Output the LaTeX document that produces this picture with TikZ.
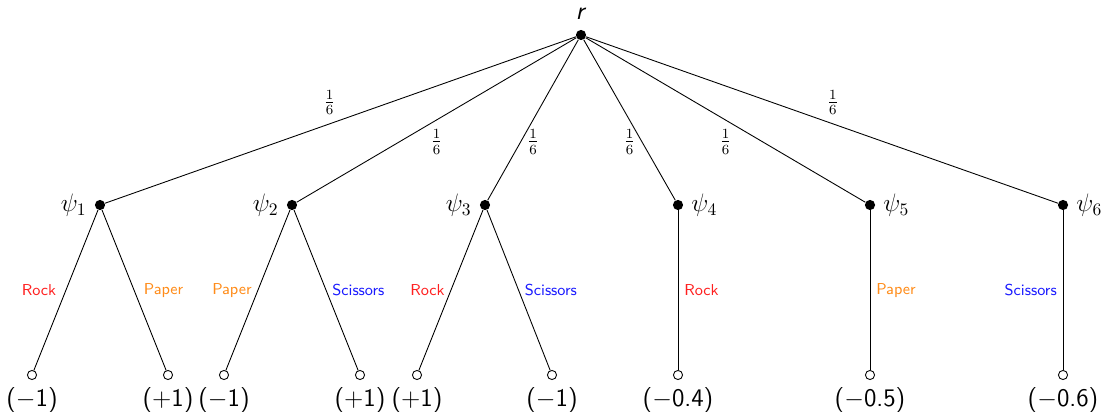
\documentclass[tikz,border=0pt]{standalone}
\usepackage{xcolor}
\usepackage{amsmath}
\usepackage{tikz}
\usetikzlibrary{positioning}
\definecolor{rockred}{HTML}{FF2020}
\definecolor{paperorange}{HTML}{FF8C1A}
\definecolor{scissorsblue}{HTML}{1A1AFF}

\begin{document}
\begin{tikzpicture}[
  x=0.02cm, y=-0.02cm, font=\sffamily,
  choice/.style={circle, fill=black, inner sep=0pt, minimum size=5.8pt},
  leaf/.style={circle, draw, fill=white, inner sep=0pt, minimum size=5.2pt, line width=0.5pt},
  br/.style={line width=0.5pt},
  prob/.style={font=\large},
  rock/.style={font=\small\sffamily, text=rockred},
  paper/.style={font=\small\sffamily, text=paperorange},
  scissors/.style={font=\small\sffamily, text=scissorsblue},
  pay/.style={label={[font=\Large\sffamily, label distance=1pt]below:#1}},
  lname/.style={label={[font=\Large, label distance=1pt]left:#1}},
  rname/.style={label={[font=\Large, label distance=1pt]right:#1}}
]
  \useasboundingbox (0,0) rectangle (1109,412);

  % root and the six worlds
  \node[choice, label={[font=\Large\sffamily, label distance=2pt]above:\textit{r}}] (r) at (581,35) {};
  \node[choice, lname=$\psi_1$] (psi1) at (100,205) {};
  \node[choice, lname=$\psi_2$] (psi2) at (292,205) {};
  \node[choice, lname=$\psi_3$] (psi3) at (485,205) {};
  \node[choice, rname=$\psi_4$] (psi4) at (678,205) {};
  \node[choice, rname=$\psi_5$] (psi5) at (870,205) {};
  \node[choice, rname=$\psi_6$] (psi6) at (1063,205) {};

  % outcomes
  \node[leaf, pay={($-$1)}] (o11) at (32,375) {};
  \node[leaf, pay={(+1)}] (o12) at (168,375) {};
  \node[leaf, pay={($-$1)}] (o21) at (224,375) {};
  \node[leaf, pay={(+1)}] (o22) at (360,375) {};
  \node[leaf, pay={(+1)}] (o31) at (417,375) {};
  \node[leaf, pay={($-$1)}] (o32) at (552,375) {};
  \node[leaf, pay={($-$0.4)}] (o4) at (678,375) {};
  \node[leaf, pay={($-$0.5)}] (o5) at (870,375) {};
  \node[leaf, pay={($-$0.6)}] (o6) at (1063,375) {};

  \draw[br] (r) -- node[prob, above left=-1pt] {$\frac16$} (psi1);
  \draw[br] (r) -- node[prob, below=2pt] {$\frac16$} (psi2);
  \draw[br] (r) -- node[prob, below=2pt] {$\frac16$} (psi3);
  \draw[br] (r) -- node[prob, below=2pt] {$\frac16$} (psi4);
  \draw[br] (r) -- node[prob, below=2pt] {$\frac16$} (psi5);
  \draw[br] (r) -- node[prob, above right=-1pt] {$\frac16$} (psi6);

  \draw[br] (psi1) -- node[rock, left=2pt] {Rock} (o11);
  \draw[br] (psi1) -- node[paper, right=2pt] {Paper} (o12);
  \draw[br] (psi2) -- node[paper, left] {Paper} (o21);
  \draw[br] (psi2) -- node[scissors, right] {Scissors} (o22);
  \draw[br] (psi3) -- node[rock, left] {Rock} (o31);
  \draw[br] (psi3) -- node[scissors, right] {Scissors} (o32);
  \draw[br] (psi4) -- node[rock, right] {Rock} (o4);
  \draw[br] (psi5) -- node[paper, right] {Paper} (o5);
  \draw[br] (psi6) -- node[scissors, left] {Scissors} (o6);
\end{tikzpicture}
\end{document}
